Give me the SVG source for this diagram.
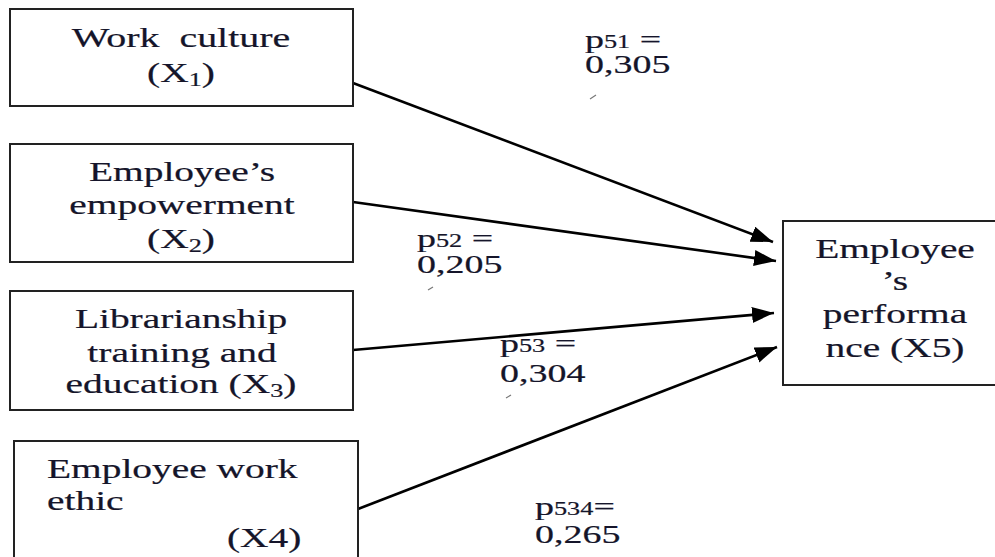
<svg xmlns="http://www.w3.org/2000/svg" width="995" height="557" viewBox="0 0 995 557">
<style>
.box{fill:#fff;stroke:#222;stroke-width:2}
.t{font-family:"Liberation Serif","Times New Roman",serif;font-size:27px;fill:#15152a;stroke:#15152a;stroke-width:0.2px;white-space:pre}
.l{font-family:"Liberation Serif","Times New Roman",serif;font-size:26px;fill:#15152a;stroke:#15152a;stroke-width:0.2px}
.sub{font-size:18px}
.conn{stroke:#000;stroke-width:2.6;fill:none;marker-end:url(#ah)}
.tick{stroke:#777;stroke-width:1.2}
</style>
<defs>
<marker id="ah" markerUnits="userSpaceOnUse" markerWidth="24" markerHeight="18" refX="22" refY="8" orient="auto">
<path d="M0,0 L22,8 L0,16 z" fill="#000"/>
</marker>
</defs>
<rect width="995" height="557" fill="#fff"/>
<g id="connectors">
<line class="conn" x1="353" y1="83" x2="773" y2="242"/>
<line class="conn" x1="353" y1="202" x2="776" y2="261"/>
<line class="conn" x1="353" y1="350" x2="774" y2="313"/>
<line class="conn" x1="358" y1="509" x2="777" y2="347"/>
</g>
<g id="x1">
<rect class="box" x="10" y="9" width="343" height="97"/>
<text class="t" text-anchor="middle" transform="matrix(1.48 0 0 1 181 47)">Work&#160; culture</text>
<text class="t" text-anchor="middle" transform="matrix(1.46 0 0 1 181 82)">(X<tspan class="sub" dy="4">1</tspan><tspan dy="-4">)</tspan></text>
</g>
<g id="x2">
<rect class="box" x="10" y="144" width="343" height="118"/>
<text class="t" text-anchor="middle" transform="matrix(1.46 0 0 1 182 181)">Employee’s</text>
<text class="t" text-anchor="middle" transform="matrix(1.46 0 0 1 182 214)">empowerment</text>
<text class="t" text-anchor="middle" transform="matrix(1.46 0 0 1 181 248)">(X<tspan class="sub" dy="4">2</tspan><tspan dy="-4">)</tspan></text>
</g>
<g id="x3">
<rect class="box" x="10" y="291" width="343" height="119"/>
<text class="t" text-anchor="middle" transform="matrix(1.46 0 0 1 181 328)">Librarianship</text>
<text class="t" text-anchor="middle" transform="matrix(1.46 0 0 1 182 362)">training and</text>
<text class="t" text-anchor="middle" transform="matrix(1.46 0 0 1 181 393)">education (X<tspan class="sub" dy="4">3</tspan><tspan dy="-4">)</tspan></text>
</g>
<g id="x4">
<rect class="box" x="14" y="441" width="344" height="140"/>
<text class="t" transform="matrix(1.46 0 0 1 47 478)">Employee work</text>
<text class="t" transform="matrix(1.46 0 0 1 47 510)">ethic</text>
<text class="t" transform="matrix(1.46 0 0 1 227 547)">(X4)</text>
</g>
<g id="x5">
<rect class="box" x="783" y="221" width="240" height="164"/>
<text class="t" text-anchor="middle" transform="matrix(1.46 0 0 1 895 258)">Employee</text>
<text class="t" text-anchor="middle" transform="matrix(1.46 0 0 1 895 290)">’s</text>
<text class="t" text-anchor="middle" transform="matrix(1.46 0 0 1 895 323)">performa</text>
<text class="t" text-anchor="middle" transform="matrix(1.46 0 0 1 895 357)">nce (X5)</text>
</g>
<g id="labels">
<text class="l" transform="matrix(1.46 0 0 1 585 48)">p<tspan class="sub">51</tspan> =</text>
<text class="l" transform="matrix(1.46 0 0 1 585 73)">0,305</text>
<line class="tick" x1="590" y1="99" x2="596" y2="95"/>
<text class="l" transform="matrix(1.46 0 0 1 417 247)">p<tspan class="sub">52</tspan> =</text>
<text class="l" transform="matrix(1.46 0 0 1 417 273)">0,205</text>
<line class="tick" x1="428" y1="290" x2="433" y2="287"/>
<text class="l" transform="matrix(1.46 0 0 1 500 352)">p<tspan class="sub">53</tspan> =</text>
<text class="l" transform="matrix(1.46 0 0 1 500 382)">0,304</text>
<line class="tick" x1="506" y1="398" x2="511" y2="395"/>
<text class="l" transform="matrix(1.46 0 0 1 535 515)">p<tspan class="sub">534</tspan>=</text>
<text class="l" transform="matrix(1.46 0 0 1 535 543)">0,265</text>
</g>
</svg>
